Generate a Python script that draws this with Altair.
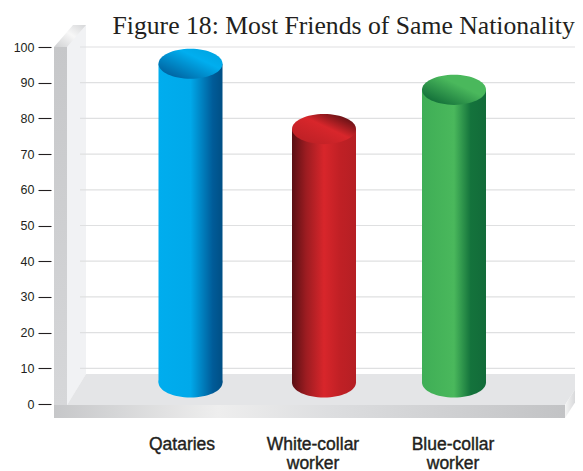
import altair as alt
import pandas as pd

# ---- chart values ----
categories = ["Qataries", "White-collar worker", "Blue-collar worker"]
label_text = ["Qataries", "White-collar\nworker", "Blue-collar\nworker"]
values = [95.3, 77, 88]
base_value = 6
ticks = [0, 10, 20, 30, 40, 50, 60, 70, 80, 90, 100]
title_text = "Figure 18: Most Friends of Same Nationality"

centers = [190.5, 324, 454]
half_w = 32
label_x = [182, 313, 453]

body_stops = [
    [(0, "#00adee"), (0.5, "#00a9ea"), (0.85, "#005b98"), (1, "#004f85")],
    [(0, "#5a0f14"), (0.22, "#9c1c21"), (0.5, "#d8262b"), (0.75, "#c02025"), (1, "#b51f24")],
    [(0, "#3fae56"), (0.5, "#4ab85c"), (0.76, "#14733c"), (1, "#126b39")],
]
top_stops = [
    [(0.1, "#005f9c"), (0.65, "#00aeef"), (1, "#00a0dc")],
    [(0, "#b51f24"), (0.55, "#d8262b"), (0.95, "#4a0d10")],
    [(0.1, "#0f6b37"), (0.62, "#4ab85c"), (1, "#4ab85c")],
]

TOP_PX, ZERO_PX = 47.0, 404.0


def v(py):
    return (ZERO_PX - py) * 100 / (ZERO_PX - TOP_PX)


xs = alt.Scale(domain=[54, 575], nice=False, zero=False)
ys = alt.Scale(domain=[0, 100], nice=False, zero=False)
y_axis = alt.Axis(
    values=ticks, grid=False, domain=False, offset=3, tickSize=13, tickWidth=1.1,
    tickColor="#231f20", labelPadding=4, labelFont="Liberation Sans", labelFontSize=12.5,
    labelColor="#231f20", title=None,
)


def X(f="x"):
    return alt.X(f, type="quantitative", scale=xs, axis=None)


def Y(f="y"):
    return alt.Y(f, type="quantitative", scale=ys, axis=y_axis)


def grad(stops, x1=0.0, y1=0.0, x2=1.0, y2=0.0):
    return alt.Gradient(
        gradient="linear", x1=x1, y1=y1, x2=x2, y2=y2,
        stops=[alt.GradientStop(offset=o, color=c) for o, c in stops],
    )


def rect(x, x2, y, y2, fill):
    d = pd.DataFrame({"x": [x], "x2": [x2], "y": [v(y)], "y2": [v(y2)]})
    return alt.Chart(d).mark_rect(fill=fill).encode(x=X(), x2="x2", y=Y(), y2="y2")


def band(xp, top, bottom, fill):
    d = pd.DataFrame({"x": xp, "y": [v(p) for p in top], "y2": [v(p) for p in bottom]})
    return alt.Chart(d).mark_area(fill=fill, orient="vertical", opacity=1).encode(x=X(), y=Y(), y2="y2")


layers = []

# back wall
layers.append(band([67, 86], [32, 25], [405, 374], "#f1f2f4"))

# gridlines
grid_df = pd.DataFrame({"y": ticks[1:], "x": [80] * 10, "x2": [575] * 10})
layers.append(
    alt.Chart(grid_df).mark_rule(color="#dfe0e1", strokeWidth=1.2).encode(x=X(), x2="x2", y=Y())
)

# floor
layers.append(band([67, 86, 565, 575], [405, 374, 374, 374], [405, 405, 405, 389.5], "#e4e5e7"))

# wall top cap and right floor end
layers.append(band([54, 67, 73, 86], [47, 32, 25, 25], [47, 47, 40, 25],
                   grad([(0, "#cfd0d2"), (0.55, "#f7f7f7"), (1, "#d5d6d8")], 0, 1, 1, 0)))
layers.append(band([565, 575], [405, 389.5], [418, 402.5],
                   grad([(0, "#f4f4f4"), (1, "#d8d9db")], 0, 0, 1, 0)))

# front strips
layers.append(rect(54, 67, 47, 405, grad([(0, "#c6c7c9"), (1, "#d6d7d9")], 0, 0, 0, 1)))
layers.append(rect(54, 565, 405, 418,
                   grad([(0, "#c6c7c9"), (0.32, "#eeeeee"), (0.55, "#dcdddf"), (1, "#c2c3c5")])))

# cylinders
ELLIPSE = "M-1,0A1,0.47,0,1,1,1,0A1,0.47,0,1,1,-1,0Z"
for i, cat in enumerate(categories):
    d = pd.DataFrame({"cat": [cat], "x": [centers[i] - half_w], "x2": [centers[i] + half_w],
                      "c": [centers[i]], "value": [values[i]], "base": [base_value]})
    c = alt.Chart(d)
    layers.append(c.mark_point(shape=ELLIPSE, size=4096, filled=True, opacity=1, fill=grad(body_stops[i]))
                  .encode(x=X("c"), y=Y("base")))
    layers.append(c.mark_rect(fill=grad(body_stops[i])).encode(x=X(), x2="x2", y=Y("base"), y2="value"))
    layers.append(c.mark_point(shape=ELLIPSE, size=4096, filled=True, opacity=1,
                               fill=grad(top_stops[i], 0, 1, 1, 0))
                  .encode(x=X("c"), y=Y("value")))

# category labels
lab_df = pd.DataFrame({"x": label_x, "y": [v(450)] * 3, "t": label_text})
layers.append(
    alt.Chart(lab_df).mark_text(
        font="Liberation Sans", fontSize=17.5, color="#231f20", lineBreak="\n", lineHeight=18.5,
        baseline="alphabetic", align="center", stroke="#231f20", strokeWidth=0.4,
    ).encode(x=X(), y=Y(), text="t:N")
)

# title
title_df = pd.DataFrame({"x": [112.5], "y": [v(34)], "t": [title_text]})
layers.append(
    alt.Chart(title_df).mark_text(
        font="Liberation Serif", fontSize=25.7, color="#231f20", baseline="alphabetic", align="left",
    ).encode(x=X(), y=Y(), text="t:N")
)

chart = alt.layer(*layers).properties(
    width=521, height=357,
    autosize=alt.AutoSizeParams(type="none"),
    padding={"left": 46, "top": 39, "right": 0, "bottom": 67},
).configure_view(stroke=None)

chart.save("out.html", embed_options={"renderer": "svg", "actions": False})
